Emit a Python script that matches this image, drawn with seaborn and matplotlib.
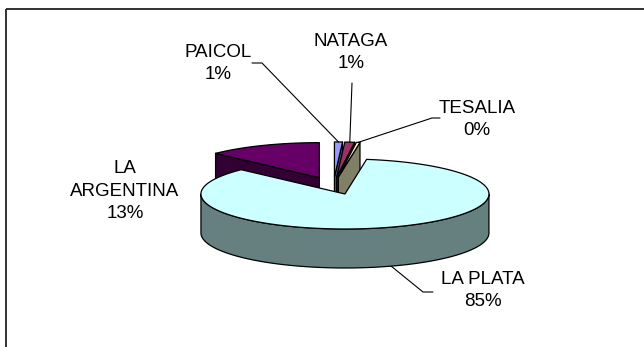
import textwrap

import matplotlib
matplotlib.use("Agg")
import matplotlib.pyplot as plt
import numpy as np
import pandas as pd
import seaborn as sns
from matplotlib.colors import to_rgb
from matplotlib.patches import Polygon, Rectangle

# Share of each municipality (percent)
categories = ["PAICOL", "NATAGA", "TESALIA", "LA PLATA", "LA ARGENTINA"]
shares = [0.9, 1.1, 0.4, 84.8, 12.8]
top_colors = ["#9999FF", "#993366", "#FFFFCC", "#CCFFFF", "#660066"]

# Layout of the tilted pie (pixel-like axes units)
CX, CY = 333.4, 185.7      # pie centre before exploding
RX, RY = 144.0, 35.0       # ellipse radii of the top face
DEPTH = 39.0               # thickness of the disc
EXPLODE = 0.25             # radial offset of every slice (fraction of radius)

# Text block centres and leader elbows for each slice label
label_xy = [(218, 63.5), (351, 52.5), (477, 119.5), (483, 290.5), (125, 191)]
leader_pts = [
    [(252, 63), (262, 63)],
    [(352, 83)],
    [(440, 118), (432, 118)],
    [(433, 292), (423, 292)],
    [],
]

sns.set_theme(style="white")
plt.rcParams["font.family"] = ["Liberation Sans", "DejaVu Sans"]

df = pd.DataFrame({"name": categories, "share": shares, "color": top_colors})
total = df["share"].sum()
frac = df["share"] / total
# slices run clockwise from 12 o'clock; store them as counter-clockwise [lo, hi]
df["lo"] = 90 - 360 * frac.cumsum()
df["hi"] = df["lo"] + 360 * frac
df["mid"] = (df["lo"] + df["hi"]) / 2
mid_r = np.radians(df["mid"])
df["ox"] = EXPLODE * RX * np.cos(mid_r)
df["oy"] = -EXPLODE * RY * np.sin(mid_r)


def rim(t_deg, ox, oy, dz=0.0):
    t = np.radians(np.asarray(t_deg, dtype=float))
    return np.column_stack([CX + ox + RX * np.cos(t), CY + oy - RY * np.sin(t) + dz])


def darker(c, k=0.5):
    return tuple(v * k for v in to_rgb(c))


fig = plt.figure(figsize=(6.44, 3.47), dpi=100, facecolor="white")
ax = fig.add_axes([0, 0, 1, 1])
ax.set_xlim(0, 644)
ax.set_ylim(347, 0)
ax.axis("off")

# chart area frame
ax.add_patch(Rectangle((6.5, 8.5), 700, 400, fill=False, edgecolor="#222222", lw=1.3))

edge = dict(edgecolor="black", lw=0.9, joinstyle="round")

# paint from the back slices to the front ones
for _, s in df.sort_values("oy").iterrows():
    ox, oy = s["ox"], s["oy"]
    vtx = np.array([[CX + ox, CY + oy]])
    side = darker(s["color"])
    # radial walls
    for t, show in ((s["lo"], np.cos(np.radians(s["lo"])) > 1e-9),
                    (s["hi"], np.cos(np.radians(s["hi"])) < -1e-9)):
        if show:
            p = rim([t], ox, oy)
            wall = np.vstack([vtx, p, p + [0, DEPTH], vtx + [0, DEPTH]])
            ax.add_patch(Polygon(wall, closed=True, facecolor=side, **edge))
    # curved outer wall (front half only)
    for k in range(-2, 2):
        a0 = max(s["lo"], -180 + 360 * k)
        a1 = min(s["hi"], 360 * k)
        if a1 > a0:
            ts = np.linspace(a0, a1, 120)
            top = rim(ts, ox, oy)
            bot = rim(ts[::-1], ox, oy, DEPTH)
            ax.add_patch(Polygon(np.vstack([top, bot]), closed=True,
                                 facecolor=side, **edge))
    # top face
    ts = np.linspace(s["lo"], s["hi"], max(4, int((s["hi"] - s["lo"]) * 2)))
    face = np.vstack([vtx, rim(ts, ox, oy)])
    ax.add_patch(Polygon(face, closed=True, facecolor=s["color"], **edge))

# labels and leader lines
for i, s in df.iterrows():
    pct = f"{round(s['share'] / total * 100):.0f}%"
    text = textwrap.fill(s["name"], 10) + "\n" + pct
    x, y = label_xy[i]
    ax.text(x, y, text, ha="center", va="center", fontsize=13.5,
            linespacing=1.4, color="black")
    if leader_pts[i]:
        back = np.sin(np.radians(s["mid"])) > 0
        anchor = rim([s["mid"]], s["ox"], s["oy"], 0.0 if back else DEPTH)[0]
        pts = np.array(leader_pts[i] + [tuple(anchor)])
        ax.plot(pts[:, 0], pts[:, 1], color="black", lw=0.8)

fig.savefig("out.png", dpi=100, facecolor="white")
